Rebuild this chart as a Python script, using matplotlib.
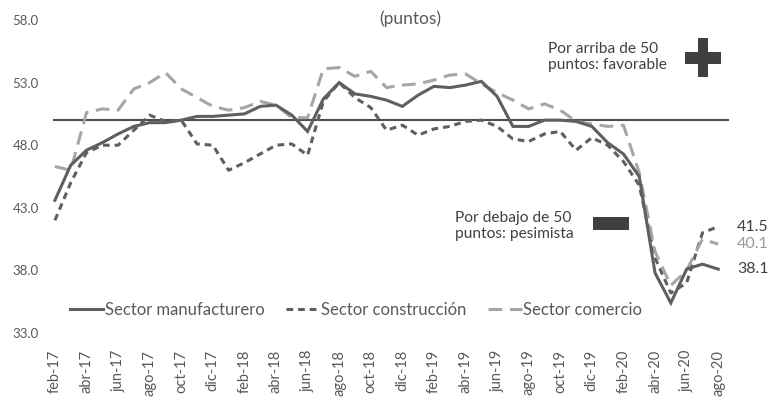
import matplotlib
matplotlib.use("Agg")
import matplotlib.pyplot as plt
from matplotlib.patches import Rectangle

plt.rcParams['font.family'] = ['Lato', 'DejaVu Sans']

# monthly data, feb-17 .. ago-20
meses = ["feb", "mar", "abr", "may", "jun", "jul", "ago", "sep", "oct", "nov", "dic", "ene"]
etiquetas = []
for k in range(43):
    m = meses[k % 12]
    anio = 17 + (k + 1) // 12
    etiquetas.append(f"{m}-{anio}")

manufacturero = [43.6, 46.4, 47.6, 48.2, 48.9, 49.5, 49.8, 49.8, 50.0, 50.3,
                 50.3, 50.4, 50.5, 51.1, 51.2, 50.4, 49.1, 51.7, 53.0, 52.1,
                 51.9, 51.6, 51.1, 52.0, 52.7, 52.6, 52.8, 53.1, 51.9, 49.5,
                 49.5, 50.0, 50.0, 49.9, 49.5, 48.2, 47.3, 45.5, 37.8, 35.4,
                 38.1, 38.5, 38.1]
construccion = [42.0, 45.0, 47.4, 48.0, 48.0, 49.2, 50.4, 49.9, 50.0, 48.1,
                48.0, 46.0, 46.6, 47.3, 48.0, 48.1, 47.2, 51.5, 53.0, 51.8,
                51.0, 49.2, 49.6, 48.8, 49.3, 49.5, 49.9, 50.0, 49.5, 48.5,
                48.3, 48.9, 49.1, 47.6, 48.6, 48.0, 46.7, 44.8, 39.0, 36.2,
                37.0, 41.0, 41.5]
comercio = [46.3, 46.0, 50.6, 50.9, 50.8, 52.5, 53.0, 53.8, 52.5, 51.8,
            51.1, 50.8, 51.0, 51.5, 51.2, 50.2, 50.2, 54.1, 54.2, 53.5,
            53.9, 52.6, 52.8, 52.9, 53.2, 53.6, 53.7, 52.9, 52.2, 51.6,
            50.9, 51.3, 50.8, 49.9, 49.7, 49.5, 49.6, 45.8, 39.5, 36.8,
            38.0, 40.5, 40.1]

x = list(range(len(etiquetas)))
gris = "#595959"

fig = plt.figure(figsize=(7.7, 4.11), dpi=100)
ax = fig.add_axes([47 / 770, 1 - 333 / 411, (734 - 47) / 770, (333 - 20) / 411])

ax.hlines(50, -0.1, 42.7, color="#4d4d4d", lw=1.5, zorder=1)

l1, = ax.plot(x, manufacturero, color="#5f5f5f", lw=2.2, solid_joinstyle="miter",
              label="Sector manufacturero", zorder=3)
l2, = ax.plot(x, construccion, color="#5f5f5f", lw=2.2, dashes=(2.2, 1.6),
              label="Sector construcción", zorder=2)
l3, = ax.plot(x, comercio, color="#a6a6a6", lw=2.2, dashes=(4.5, 2.5),
              label="Sector comercio", zorder=2)

ax.set_xlim(-0.5, 43)
ax.set_ylim(33, 58)
ax.set_yticks([33, 38, 43, 48, 53, 58])
ax.set_yticklabels([f"{v:.1f}" for v in [33, 38, 43, 48, 53, 58]])
ax.set_xticks(x[::2])
ax.set_xticklabels(etiquetas[::2], rotation=90)
ax.tick_params(axis="both", length=0, colors=gris, labelsize=9.5)
ax.tick_params(axis="x", pad=12, labelsize=10.5)
ax.tick_params(axis="y", pad=6)
for s in ax.spines.values():
    s.set_visible(False)

leg = ax.legend(handles=[l1, l2, l3], loc="center", bbox_to_anchor=(0.45, 0.075),
                ncol=3, frameon=False, fontsize=12, handlelength=2.0,
                handletextpad=0.1, columnspacing=1.3)
for t in leg.get_texts():
    t.set_color(gris)

# end labels
ax.text(42 + 1.2, manufacturero[-1], f"{manufacturero[-1]:.1f}", color="#404040",
        fontsize=11.5, va="center", ha="left")
ax.text(42 + 1.2, construccion[-1], f"{construccion[-1]:.1f}", color="#404040",
        fontsize=11.5, va="center", ha="left")
ax.text(42 + 1.2, comercio[-1], f"{comercio[-1]:.1f}", color="#999999",
        fontsize=11.5, va="center", ha="left")

fig.text(410 / 770, 1 - 19 / 411, "(puntos)", ha="center", va="center",
         fontsize=12.5, color=gris)
fig.text(548 / 770, 1 - 57 / 411, "Por arriba de 50\npuntos: favorable",
         ha="left", va="center", fontsize=11.2, color="#404040", linespacing=1.25)
fig.text(455 / 770, 1 - 226 / 411, "Por debajo de 50\npuntos: pesimista",
         ha="left", va="center", fontsize=11.2, color="#404040", linespacing=1.25)

# plus and minus signs
oscuro = "#404040"
def caja(x0, y0, x1, y1):
    fig.add_artist(Rectangle((x0 / 770, 1 - y1 / 411), (x1 - x0) / 770, (y1 - y0) / 411,
                             transform=fig.transFigure, color=oscuro, lw=0))
caja(698, 38, 708, 77)
caja(685, 52, 721, 64)
caja(593, 217, 629, 230)

fig.savefig("out.png", dpi=100)
